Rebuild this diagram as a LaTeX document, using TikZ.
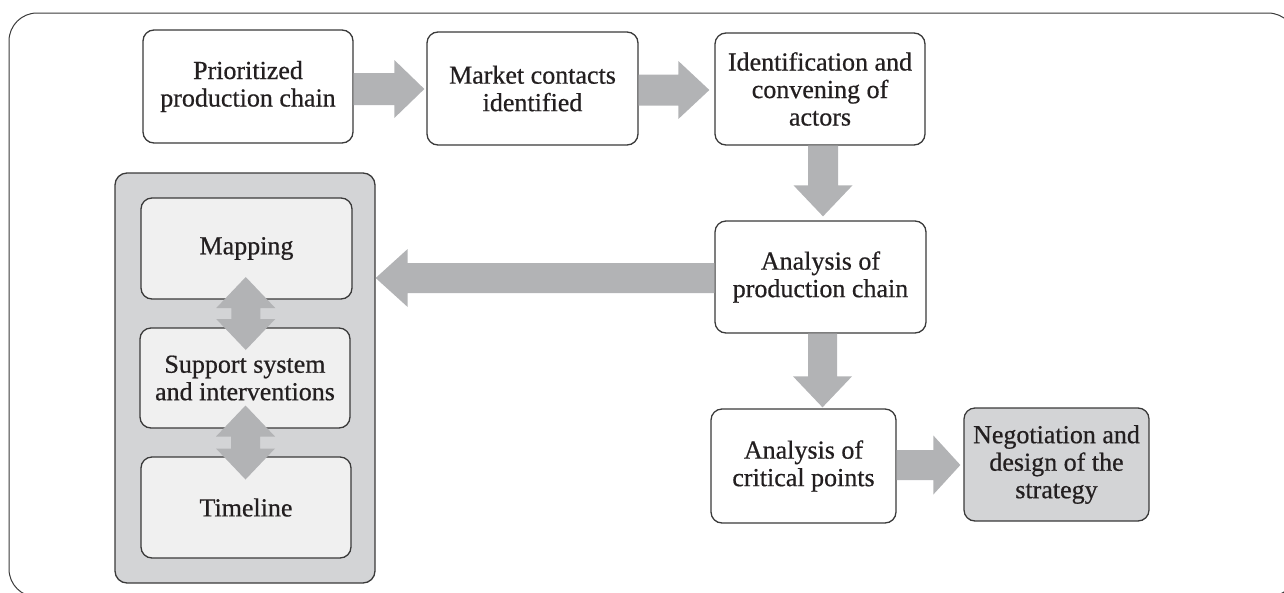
\documentclass[tikz,border=0pt]{standalone}
\usepackage{fontspec}
\setmainfont{Liberation Serif}[FakeBold=0.6]
\usetikzlibrary{calc}
\definecolor{arrowgray}{HTML}{B2B3B5}
\definecolor{panelgray}{HTML}{D3D4D6}
\definecolor{innergray}{HTML}{F0F0F0}
\definecolor{edgegray}{HTML}{3A3A3A}
\definecolor{textdark}{HTML}{231F20}
% right-pointing block arrow: start, tip, shaft half, head half, head length
\newcommand\rblock[5]{\fill[blockarrow] let \p1=#1, \p2=#2 in
  (\x1,\y1+#3) -- (\x2-#5,\y1+#3) -- (\x2-#5,\y1+#4) -- (\x2,\y1) --
  (\x2-#5,\y1-#4) -- (\x2-#5,\y1-#3) -- (\x1,\y1-#3) -- cycle;}
\newcommand\lblock[5]{\fill[blockarrow] let \p1=#1, \p2=#2 in
  (\x1,\y1+#3) -- (\x2+#5,\y1+#3) -- (\x2+#5,\y1+#4) -- (\x2,\y1) --
  (\x2+#5,\y1-#4) -- (\x2+#5,\y1-#3) -- (\x1,\y1-#3) -- cycle;}
\newcommand\dblock[5]{\fill[blockarrow] let \p1=#1, \p2=#2 in
  (\x1-#3,\y1) -- (\x1-#3,\y2+#5) -- (\x1-#4,\y2+#5) -- (\x1,\y2) --
  (\x1+#4,\y2+#5) -- (\x1+#3,\y2+#5) -- (\x1+#3,\y1) -- cycle;}
% vertical double block arrow: centre, half length, shaft half, head half, head length
\newcommand\vdouble[5]{\fill[blockarrow] let \p1=#1 in
  (\x1,\y1+#2) -- (\x1+#4,\y1+#2-#5) -- (\x1+#3,\y1+#2-#5) -- (\x1+#3,\y1-#2+#5) --
  (\x1+#4,\y1-#2+#5) -- (\x1,\y1-#2) -- (\x1-#4,\y1-#2+#5) -- (\x1-#3,\y1-#2+#5) --
  (\x1-#3,\y1+#2-#5) -- (\x1-#4,\y1+#2-#5) -- cycle;}
\begin{document}
\begin{tikzpicture}[x=1pt,y=-1pt,
  blockarrow/.style={fill=arrowgray},
  frame/.style={draw=edgegray,line width=1pt,rounded corners=28pt},
  box/.style={draw=edgegray,line width=1.3pt,rounded corners=11pt,fill=white,
    align=center,text=textdark,inner sep=0pt,
    font=\fontsize{26}{27.5}\selectfont},
  panel/.style={draw=edgegray,line width=1.3pt,rounded corners=12pt,fill=panelgray,inner sep=0pt},
  inner/.style={box,fill=innergray},
  final/.style={box,fill=panelgray}]
\useasboundingbox (0,0) rectangle (1284,592);
\clip (0,0) rectangle (1284,592);
\draw[frame] (9,13) rectangle (1296,597);

\node[box,minimum width=210pt,minimum height=113pt] (b1) at (248,86.5) {Prioritized\\production chain};
\node[box,minimum width=211pt,minimum height=113pt] (b2) at (532.5,88.5) {Market contacts\\identified};
\node[box,minimum width=210pt,minimum height=112pt] (b3) at (820,89) {Identification and\\convening of\\actors};
\node[box,minimum width=211pt,minimum height=112pt] (b4) at (820.5,277) {Analysis of\\production chain};
\node[box,minimum width=185pt,minimum height=114pt] (b5) at (803.5,466) {Analysis of\\critical points};
\node[final,minimum width=185pt,minimum height=113pt] (b6) at (1056.5,464.5) {Negotiation and\\design of the\\strategy};

\node[panel,minimum width=260pt,minimum height=410pt] (p) at (245,378) {};
\node[inner,minimum width=211pt,minimum height=101pt] (m1) at (246.5,248.5) {Mapping};
\node[inner,minimum width=210pt,minimum height=100pt] (m2) at (245,378) {Support system\\and interventions};
\node[inner,minimum width=210pt,minimum height=101pt] (m3) at (246,507.5) {Timeline};

\rblock{($(b1.east)+(0,2.5)$)}{($(b2.west)+(-2,0)$)}{16pt}{29pt}{30pt}
\rblock{($(b2.east)+(0,1.5)$)}{($(b3.west)+(-5,0)$)}{15.5pt}{29pt}{31pt}
\dblock{($(b3.south)+(3,0)$)}{($(b4.north)+(0,-4)$)}{15pt}{29.5pt}{31pt}
\dblock{($(b4.south)+(2,0)$)}{($(b5.north)+(0,-1)$)}{14.5pt}{29.5pt}{31pt}
\lblock{($(b4.west)+(0,1)$)}{(p.east)}{15pt}{29pt}{32pt}
\rblock{($(b5.east)+(0,-1)$)}{($(b6.west)+(-3,0)$)}{15pt}{29.5pt}{27pt}
\vdouble{($(m1.south)!0.5!(m2.north)$)}{36.5pt}{14.5pt}{29.5pt}{31pt}
\vdouble{($(m2.south)!0.5!(m3.north)$)}{37pt}{14.5pt}{29.5pt}{31pt}
\end{tikzpicture}
\end{document}
